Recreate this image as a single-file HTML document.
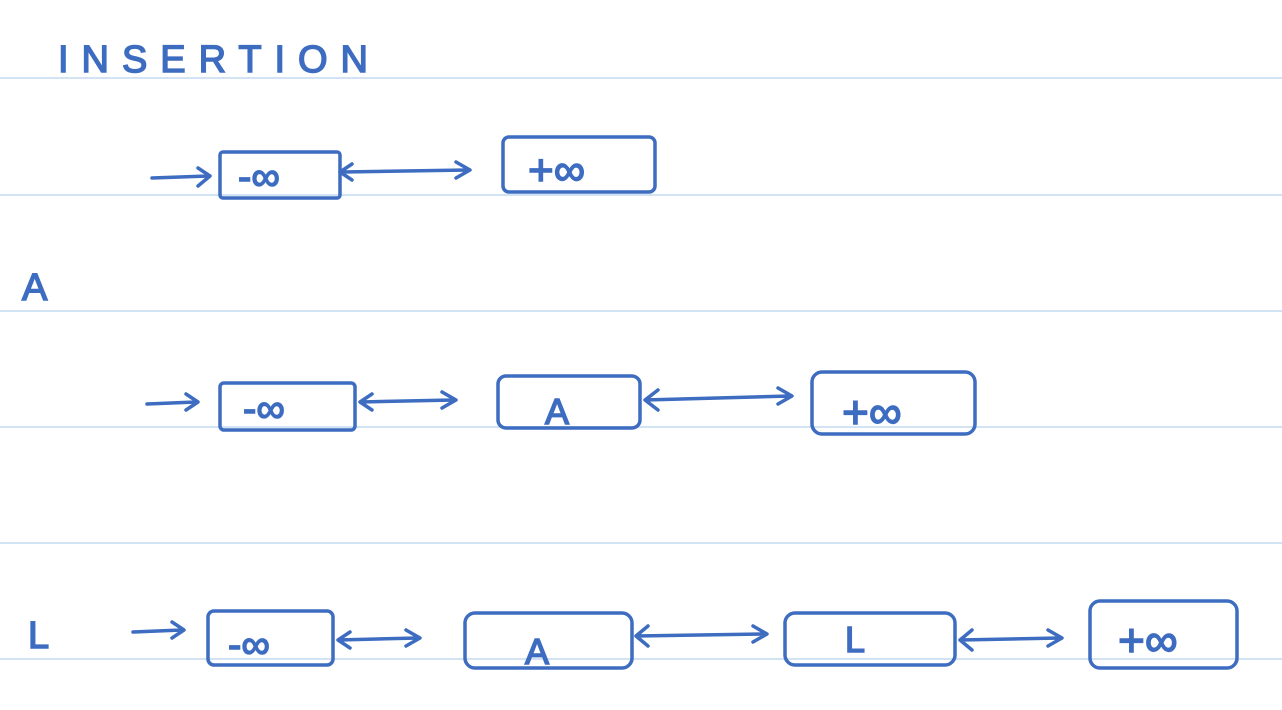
<!DOCTYPE html>
<html><head><meta charset="utf-8"><style>
html,body{margin:0;padding:0;background:#fff;}
svg{display:block;}
text{font-family:"Liberation Sans",sans-serif;fill:#3d6cc0;stroke:#3d6cc0;stroke-width:1.5;}
</style></head><body>
<svg width="1282" height="710" viewBox="0 0 1282 710">
<g stroke="#d2e4f4" stroke-width="2">
<line x1="0" y1="78" x2="1282" y2="78"/><line x1="0" y1="195" x2="1282" y2="195"/>
<line x1="0" y1="311" x2="1282" y2="311"/><line x1="0" y1="427" x2="1282" y2="427"/>
<line x1="0" y1="543" x2="1282" y2="543"/><line x1="0" y1="659" x2="1282" y2="659"/>
</g>
<text x="58" y="72" font-size="38" textLength="310" lengthAdjust="spacing">INSERTION</text>
<g fill="none" stroke="#3d6cc0" stroke-width="3.5" stroke-linecap="round" stroke-linejoin="round">
<path d="M152 178 L208 176 M198 168 L210 176 L198 186"/>
<rect x="220" y="152" width="120" height="46" rx="3"/>
<path d="M342 172 L468 170 M352 164 L340 172 L352 180 M456 162 L470 170 L456 178"/>
<rect x="503" y="137" width="152" height="55" rx="6"/>
<path d="M147 404 L196 402 M186 394 L198 402 L186 410"/>
<rect x="220" y="383" width="135" height="47" rx="4"/>
<path d="M360 402 L454 400 M372 394 L360 402 L372 410 M442 392 L456 400 L442 408"/>
<rect x="498" y="376" width="142" height="52" rx="8"/>
<path d="M645 400 L790 396 M658 390 L645 400 L658 410 M778 388 L792 396 L778 404"/>
<rect x="812" y="372" width="163" height="62" rx="10"/>
<path d="M133 632 L182 630 M172 622 L184 630 L172 638"/>
<rect x="208" y="611" width="125" height="54" rx="6"/>
<path d="M338 640 L418 638 M350 632 L338 640 L350 648 M406 630 L420 638 L406 646"/>
<rect x="465" y="613" width="167" height="55" rx="10"/>
<path d="M636 636 L765 634 M648 626 L636 636 L648 646 M753 626 L767 634 L753 642"/>
<rect x="785" y="613" width="170" height="52" rx="10"/>
<path d="M960 640 L1060 638 M972 630 L960 640 L972 650 M1048 630 L1062 638 L1048 646"/>
<rect x="1090" y="601" width="147" height="67" rx="10"/>
</g>
<text x="238" y="190" font-size="40">-∞</text>
<text x="528" y="185" font-size="44">+∞</text>
<text x="22" y="300" font-size="38">A</text>
<text x="243" y="422" font-size="40">-∞</text>
<text x="545" y="424" font-size="36">A</text>
<text x="842" y="428" font-size="46">+∞</text>
<text x="28" y="648" font-size="38">L</text>
<text x="228" y="658" font-size="40">-∞</text>
<text x="525" y="664" font-size="36">A</text>
<text x="845" y="652" font-size="36">L</text>
<text x="1118" y="656" font-size="46">+∞</text>
</svg>
</body></html>
